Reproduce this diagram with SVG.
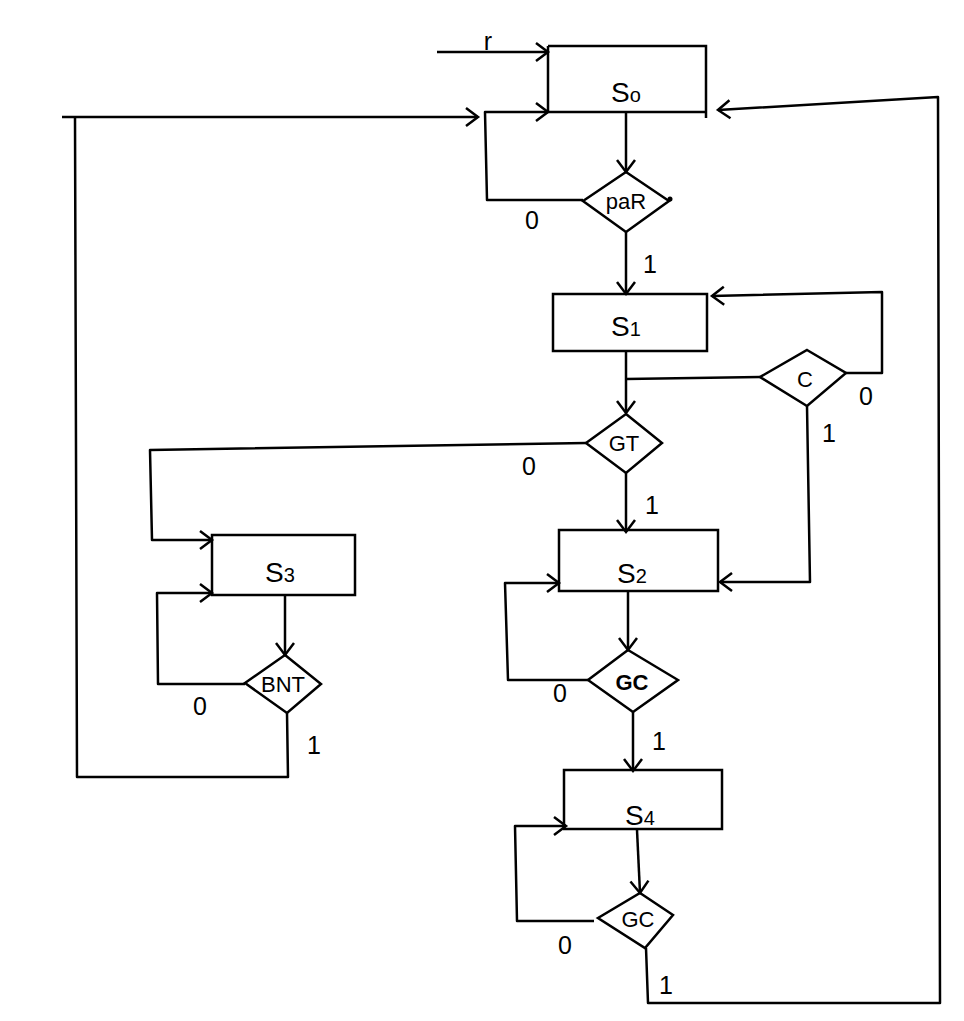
<svg xmlns="http://www.w3.org/2000/svg" width="964" height="1021" viewBox="0 0 964 1021">
<style>
.box{fill:none;stroke:#000;stroke-width:2.5}
.ln{fill:none;stroke:#000;stroke-width:2.5;stroke-linejoin:round}
.arr{marker-end:url(#ah)}
.t{font-family:"Liberation Sans",Arial,sans-serif;font-size:28px;fill:#000;text-anchor:middle}
.d{font-family:"Liberation Sans",Arial,sans-serif;font-size:22px;fill:#000;text-anchor:middle}
.lb{font-family:"Liberation Sans",Arial,sans-serif;font-size:25px;fill:#000;text-anchor:middle}
</style>
<defs>
<marker id="ah" markerUnits="userSpaceOnUse" markerWidth="30" markerHeight="30" refX="0" refY="0" viewBox="-15 -15 30 30" orient="auto" overflow="visible">
<path d="M-12,-9 L0,0 L-12,9" fill="none" stroke="#000" stroke-width="2.5"/>
</marker>
</defs>
<rect width="964" height="1021" fill="#fff"/>

<g id="connectors">
<path class="ln arr" d="M437,52 L548,52"/>
<text class="lb" x="488" y="50">r</text>
<path class="ln arr" d="M626,112 L626,172"/>
<path class="ln arr" d="M583,200 L487,200 L485,112 L548,112"/>
<path class="ln arr" d="M626,232 L626,294"/>
<path class="ln arr" d="M626,351 L626,413"/>
<path class="ln" d="M626,379 L760,377"/>
<path class="ln arr" d="M846,373 L882,373 L882,292 L712,296"/>
<path class="ln arr" d="M807,406 L810,582 L720,582"/>
<path class="ln arr" d="M586,443 L150,450 L152,540 L212,540"/>
<path class="ln arr" d="M626,473 L626,532"/>
<path class="ln arr" d="M628,591 L628,650"/>
<path class="ln arr" d="M588,680 L508,680 L505,583 L559,583"/>
<path class="ln arr" d="M633,712 L633,771"/>
<path class="ln arr" d="M637,830 L640,893"/>
<path class="ln arr" d="M594,921 L517,921 L515,826 L566,826"/>
<path class="ln arr" d="M646,948 L648,1003 L940,1003 L938,97 L718,110"/>
<path class="ln arr" d="M285,595 L285,655"/>
<path class="ln arr" d="M245,684 L158,684 L157,593 L212,593"/>
<path class="ln arr" d="M287,713 L288,777 L77,777 L75,117 L62,117 M75,117 L478,117"/>
</g>

<g id="S0">
<path class="box" d="M548,46 L706,46 L706,118 M548,46 L548,112 L706,112"/>
<text class="t" x="626" y="102">S<tspan font-size="20">o</tspan></text>
</g>
<g id="PAR">
<path class="box" d="M626,172 L669,201 L626,232 L583,201 Z"/>
<circle cx="670" cy="199" r="2.5" fill="#000"/>
<text class="d" x="626" y="209">paR</text>
<text class="lb" x="532" y="229">0</text>
<text class="lb" x="650" y="273">1</text>
</g>
<g id="S1">
<rect class="box" x="553" y="294" width="154" height="57"/>
<text class="t" x="626" y="336">S<tspan font-size="20">1</tspan></text>
</g>
<g id="C">
<path class="box" d="M807,350 L846,373 L807,406 L760,377 Z"/>
<text class="d" x="805" y="387">C</text>
<text class="lb" x="866" y="405">0</text>
<text class="lb" x="829" y="442">1</text>
</g>
<g id="GT">
<path class="box" d="M626,414 L662,443 L626,473 L586,443 Z"/>
<text class="d" x="624" y="451">GT</text>
<text class="lb" x="529" y="475">0</text>
<text class="lb" x="652" y="514">1</text>
</g>
<g id="S2">
<rect class="box" x="559" y="530" width="159" height="61"/>
<text class="t" x="632" y="583">S<tspan font-size="20">2</tspan></text>
</g>
<g id="GC1">
<path class="box" d="M628,650 L678,680 L633,712 L588,680 Z"/>
<text class="d" x="632" y="690" font-weight="bold">GC</text>
<text class="lb" x="560" y="702">0</text>
<text class="lb" x="659" y="750">1</text>
</g>
<g id="S4">
<rect class="box" x="564" y="770" width="158" height="59"/>
<text class="t" x="640" y="825">S<tspan font-size="20">4</tspan></text>
</g>
<g id="GC2">
<path class="box" d="M640,893 L673,915 L645,948 L598,918 Z"/>
<text class="d" x="638" y="927">GC</text>
<text class="lb" x="565" y="954">0</text>
<text class="lb" x="666" y="994">1</text>
</g>
<g id="S3">
<rect class="box" x="212" y="535" width="143" height="60"/>
<text class="t" x="280" y="582">S<tspan font-size="20">3</tspan></text>
</g>
<g id="BNT">
<path class="box" d="M285,655 L321,684 L287,713 L245,683 Z"/>
<text class="d" x="283" y="692" font-size="18">BNT</text>
<text class="lb" x="200" y="715">0</text>
<text class="lb" x="314" y="754">1</text>
</g>
</svg>
